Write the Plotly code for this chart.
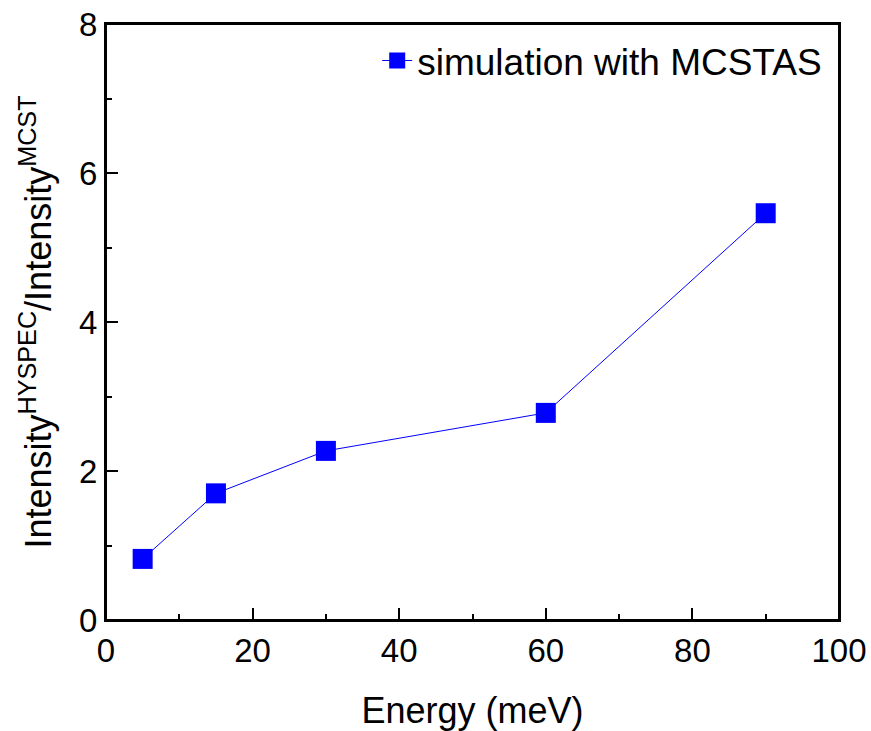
import plotly.graph_objects as go

energy = [5, 15, 30, 60, 90]
ratio = [0.82, 1.70, 2.27, 2.78, 5.46]
series_name = "simulation with MCSTAS"

FONT = "Liberation Sans, Arial, sans-serif"

fig = go.Figure()
fig.add_trace(go.Scatter(
    x=energy, y=ratio, mode="lines+markers", name=series_name,
    line=dict(color="#0000FF", width=1),
    marker=dict(symbol="square", size=20, color="#0000FF",
                line=dict(width=0)),
))

axis_common = dict(
    showgrid=False, zeroline=False, automargin=False,
    showline=True, linecolor="black", linewidth=2, mirror=True,
    ticks="inside", ticklen=12, tickwidth=2, tickcolor="black",
    ticklabeloverflow="allow",
    tickfont=dict(family=FONT, size=33, color="black"),
    minor=dict(ticks="inside", ticklen=6, tickwidth=2, tickcolor="black"),
)

fig.update_xaxes(
    range=[0, 100], tickmode="array", tickvals=[0, 20, 40, 60, 80, 100],
    minor_dtick=10,
    title=dict(text="Energy (meV)", font=dict(family=FONT, size=36, color="black"),
               standoff=30),
    **axis_common,
)
fig.update_yaxes(
    range=[0, 8], tickmode="array", tickvals=[0, 2, 4, 6, 8],
    minor_dtick=1,
    title=dict(text="Intensity<sup>HYSPEC</sup>/Intensity<sup>MCST</sup>",
               font=dict(family=FONT, size=36, color="black"), standoff=16),
    **axis_common,
)

# plot frame
fig.add_shape(type="rect", xref="x domain", yref="y domain",
              x0=0, x1=1, y0=0, y1=1, line=dict(color="black", width=2),
              layer="above")

fig.update_layout(
    width=871, height=731,
    margin=dict(l=106, r=32, t=24, b=111),
    paper_bgcolor="white", plot_bgcolor="white",
    showlegend=True,
    legend=dict(x=0.37, y=0.99, xanchor="left", yanchor="top",
                bgcolor="rgba(0,0,0,0)",
                font=dict(family=FONT, size=37, color="black")),
)

fig.write_html("out.html", config={"displayModeBar": False},
               post_script="document.body.style.margin='0';document.body.style.overflow='hidden';")
